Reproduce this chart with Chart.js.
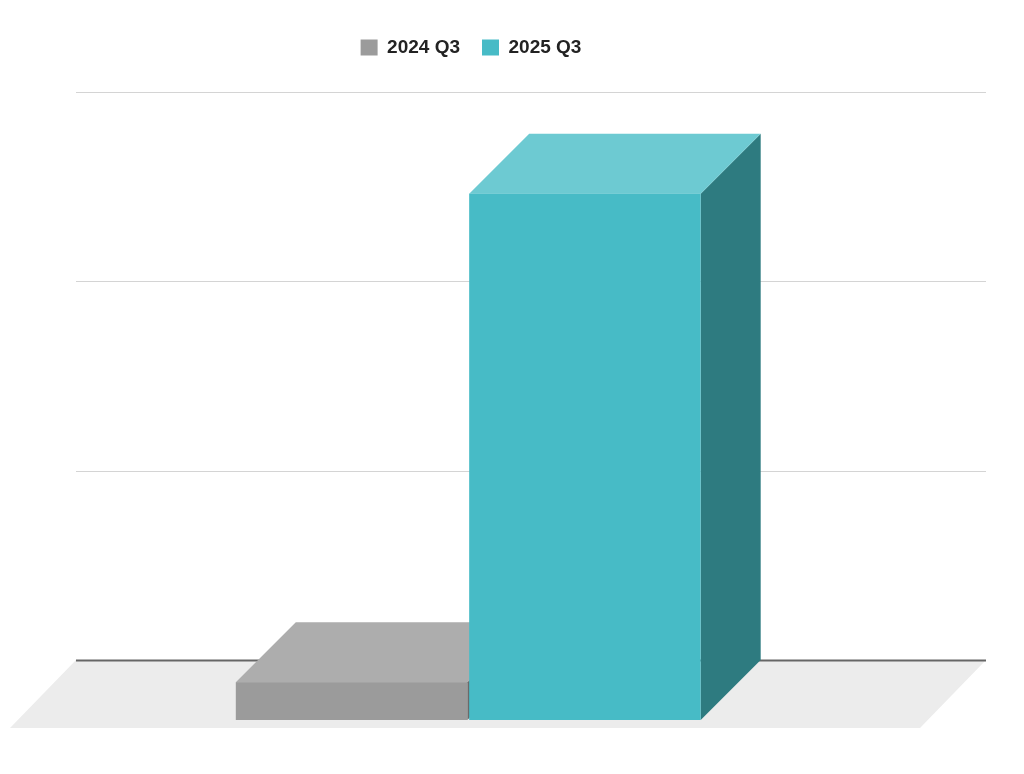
<!DOCTYPE html>
<html><head><meta charset="utf-8">
<script src="https://cdn.jsdelivr.net/npm/chart.js@4.4.1/dist/chart.umd.min.js"></script>
<style>html,body{margin:0;padding:0;background:#fff}#wrap{width:1024px;height:774px}</style>
</head><body><div id="wrap"><canvas id="c" width="1024" height="774"></canvas></div>
<script>
const categories = [''];
const seriesNames = ['2024 Q3', '2025 Q3'];
const values2024 = [2.0];
const values2025 = [27.8];
const yTicks = [0, 10, 20, 30];

const DEPTH = 60;
const faces = [
  {front: '#9b9b9b', top: '#adadad', side: '#6a6a6a'},
  {front: '#47bbc6', top: '#6dcad2', side: '#2e7b80'}
];

const threeD = {
  id: 'threeD',
  beforeDatasetsDraw(chart) {
    const ctx = chart.ctx, a = chart.chartArea, y = chart.scales.y;
    const base = y.getPixelForValue(0);
    const bl = a.left + DEPTH - 1, br = a.right + DEPTH + 1;
    ctx.save();
    // floor
    ctx.fillStyle = '#ececec';
    ctx.beginPath();
    ctx.moveTo(bl, base - DEPTH);
    ctx.lineTo(br, base - DEPTH);
    ctx.lineTo(br - 66, base + 8);
    ctx.lineTo(bl - 66, base + 8);
    ctx.closePath(); ctx.fill();
    // back grid
    yTicks.forEach(v => {
      const py = Math.round(y.getPixelForValue(v) - DEPTH) + 0.5;
      ctx.strokeStyle = v === 0 ? '#666666' : '#d4d4d4';
      ctx.lineWidth = v === 0 ? 2 : 1;
      ctx.beginPath();
      ctx.moveTo(bl, py);
      ctx.lineTo(br, py);
      ctx.stroke();
    });
    // bars
    chart.data.datasets.forEach((ds, di) => {
      const meta = chart.getDatasetMeta(di);
      meta.data.forEach(el => {
        const f = faces[di];
        const l = el.x - el.width / 2 - 3, r = el.x + el.width / 2 - 2.5, t = el.y, b = el.base;
        ctx.fillStyle = f.side;
        ctx.beginPath();
        ctx.moveTo(r, t); ctx.lineTo(r + DEPTH, t - DEPTH);
        ctx.lineTo(r + DEPTH, b - DEPTH); ctx.lineTo(r, b);
        ctx.closePath(); ctx.fill();
        ctx.fillStyle = f.top;
        ctx.beginPath();
        ctx.moveTo(l, t); ctx.lineTo(l + DEPTH, t - DEPTH);
        ctx.lineTo(r + DEPTH, t - DEPTH); ctx.lineTo(r, t);
        ctx.closePath(); ctx.fill();
        ctx.fillStyle = f.front;
        ctx.fillRect(l, t, r - l, b - t);
      });
    });
    ctx.restore();
    return false;
  }
};

new Chart(document.getElementById('c'), {
  type: 'bar',
  data: {
    labels: categories,
    datasets: [
      {label: seriesNames[0], data: values2024, backgroundColor: faces[0].front},
      {label: seriesNames[1], data: values2025, backgroundColor: faces[1].front}
    ]
  },
  options: {
    responsive: false,
    animation: false,
    categoryPercentage: 0.514,
    barPercentage: 0.99,
    layout: {padding: {left: 17, right: 99, top: 16, bottom: 54}},
    plugins: {
      legend: {
        position: 'top',
        labels: {
          boxWidth: 17, boxHeight: 16, padding: 22,
          color: '#222222',
          font: {family: 'Liberation Sans, Arial, sans-serif', size: 19, weight: 'bold'}
        }
      },
      tooltip: {enabled: false}
    },
    scales: {
      x: {
        display: true, position: 'top',
        grid: {display: false}, border: {display: false}, ticks: {display: false},
        afterFit(s) { s.height = 85; }
      },
      y: {display: false, min: 0, max: 30, ticks: {stepSize: 10}}
    }
  },
  plugins: [threeD]
});
</script></body></html>
